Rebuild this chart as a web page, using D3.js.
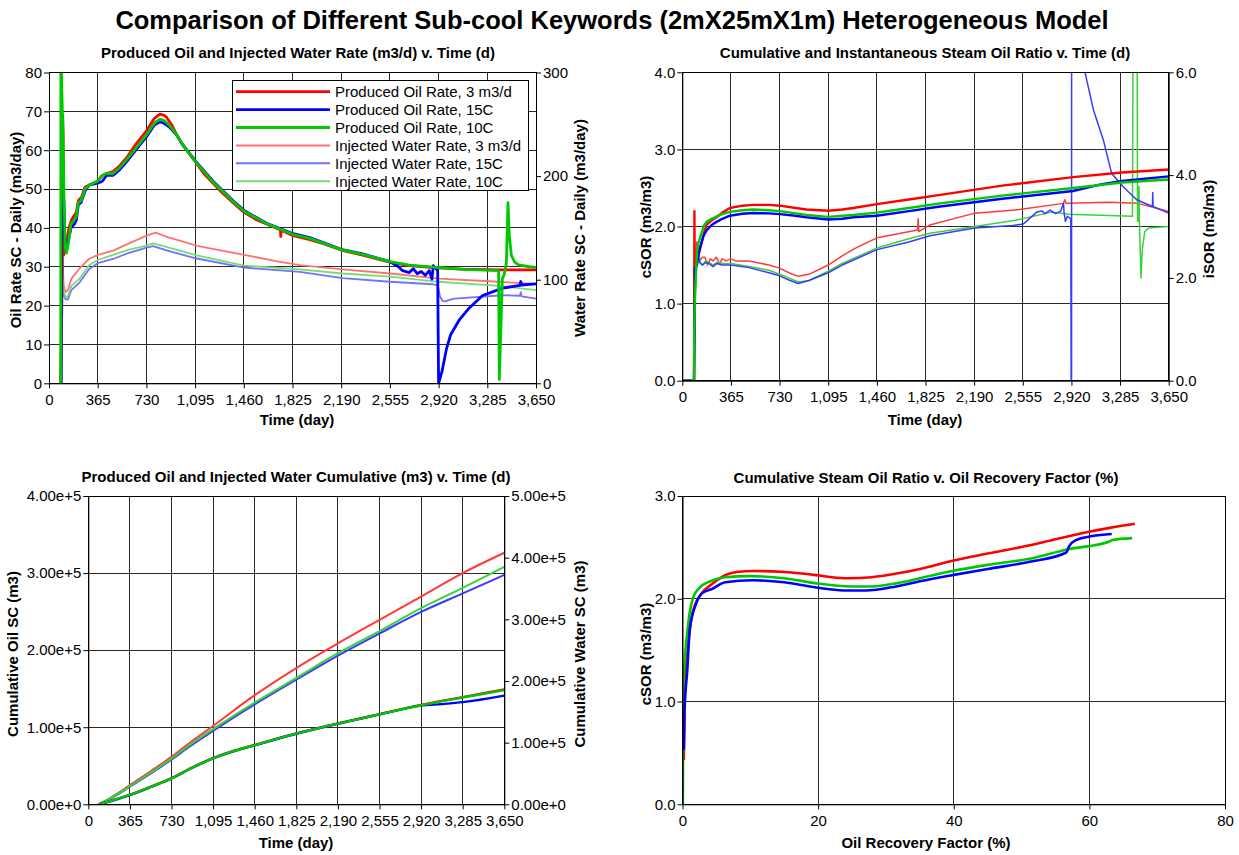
<!DOCTYPE html>
<html>
<head>
<meta charset="utf-8">
<script src="https://cdn.jsdelivr.net/npm/d3@7"></script>
<style>
  body { margin: 0; background: #fff; }
  svg { display: block; }
</style>
</head>
<body>
<svg id="fig" width="1239" height="855"></svg>
<script>
// ---------------- data ----------------
const dayTicks = [0, 365, 730, 1095, 1460, 1825, 2190, 2555, 2920, 3285, 3650];
const rfTicks = [0, 20, 40, 60, 80];

const caseLabels = ["3 m3/d", "15C", "10C"];
const caseColors = ["#ff0000", "#0000ff", "#00c800"];
const caseLight  = ["#ff7272", "#7272ff", "#74de74"];
const caseThin   = ["#ff3a3a", "#3a3aff", "#3ad23a"];

// Produced oil rate (m3/d) : [day, rate]
const oilRate3m3d = [[88,0],[100,30],[103,69],[106,62],[110,33],[118,35],[130,36],[150,40],[168,42],[185,43],[205,44],[220,47],[245,48],[270,50.5],[300,51],[363,52],[400,53.5],[431,54],[480,54.5],[530,56],[581,58],[650,61.5],[731,65],[790,68.2],[831,69.3],[860,69],[881,68.5],[920,66.5],[956,64],[1000,61.5],[1098,57],[1160,54],[1230,51.5],[1300,49],[1380,46.5],[1462,44],[1550,42.2],[1630,41],[1700,40],[1735,39.5],[1737,37.8],[1740,39.4],[1830,38],[1955,37],[2050,36],[2190,34.3],[2350,33],[2556,31.2],[2700,30.3],[2880,29.8],[3100,29.4],[3381,29.2],[3650,29.2]];
const oilRate15C = [[88,0],[92,0],[95,60],[100,63],[108,50],[118,38],[128,34],[140,36],[165,40],[190,41],[205,42],[220,46],[240,46.5],[270,49.5],[300,51],[363,51.5],[400,52],[431,53.5],[480,53.5],[530,55],[581,57],[650,60],[731,63.5],[790,66.5],[831,67.3],[860,67],[900,66],[956,64],[1000,61.5],[1098,57.2],[1230,52],[1380,47],[1462,44.5],[1630,41.2],[1830,38.5],[1955,37.5],[2190,34.5],[2350,33.3],[2556,31.3],[2620,30],[2650,29],[2700,28.5],[2730,29.5],[2760,28.2],[2790,28.8],[2820,27.8],[2850,29],[2870,26.8],[2880,30.3],[2900,29.5],[2913,29],[2920,0],[2945,3],[2980,9],[3010,12.5],[3075,16.3],[3150,19.4],[3250,22.6],[3400,24.5],[3530,25.2],[3536,26.2],[3542,25.3],[3650,25.6]];
const oilRate10C = [[86,0],[88,0],[89,82],[92,82],[100,70],[105,65],[112,48],[122,35],[130,33.5],[145,36],[165,41],[190,42],[205,43],[220,46.5],[240,47],[270,50],[300,51],[363,52],[400,53.5],[431,54],[480,54],[530,55.5],[581,57.5],[650,60.5],[731,64],[790,67],[831,68],[860,67.7],[900,66.5],[956,64],[1000,61.5],[1098,57],[1230,51.8],[1380,46.8],[1462,44.3],[1630,41.1],[1830,38.3],[1955,37.3],[2190,34.4],[2350,33.2],[2556,31.3],[2700,30.4],[2880,29.9],[3100,29.3],[3370,29],[3375,1],[3390,18],[3398,27],[3412,28],[3428,31],[3440,46.5],[3450,38],[3465,33],[3490,31.2],[3520,30.5],[3600,30],[3650,29.8]];

// Injected water rate (m3/d) : [day, rate]
const waterRate3m3d = [[88,0],[92,120],[100,125],[110,95],[125,88],[142,90],[168,101],[230,111],[300,120],[365,124],[480,128],[600,135],[731,142.5],[800,145.5],[900,140.6],[1000,137],[1100,133],[1462,124],[1700,118],[1880,114],[2200,110],[2556,106],[2920,101],[3300,98.5],[3650,96]];
const waterRate15C = [[88,0],[92,68],[100,100],[110,85],[125,81],[142,81],[168,90],[230,97.5],[300,110],[365,116],[480,120],[600,126],[731,131],[780,132.4],[900,127.5],[1100,120.7],[1462,111.7],[1880,107.6],[2200,101.5],[2556,98],[2880,95.6],[2915,94],[2930,84],[2950,79.5],[2970,79],[3000,80.5],[3040,81.8],[3400,85],[3530,84.5],[3536,88],[3542,84],[3650,81.8]];
const waterRate10C = [[88,0],[92,75],[100,110],[110,88],[125,83],[142,84],[168,94],[230,101],[300,114],[365,119],[480,124],[600,129],[731,133],[780,135],[900,131],[1100,123.7],[1462,113.6],[1880,110],[2200,106],[2556,103],[2920,98],[3400,93.7],[3650,90]];

// Cumulative steam oil ratio (m3/m3) : [day, cSOR]
const cSOR3m3d = [[0,0],[88,0],[90,1.45],[91,2.2],[93,1.45],[100,1.45],[115,1.6],[132,1.7],[160,1.9],[182,2.02],[220,2.08],[257,2.12],[300,2.18],[357,2.24],[450,2.27],[532,2.28],[650,2.28],[732,2.27],[850,2.24],[932,2.22],[1095,2.205],[1200,2.22],[1283,2.24],[1460,2.29],[1700,2.35],[1935,2.41],[2400,2.53],[2932,2.64],[3300,2.7],[3650,2.74]];
const cSOR15C = [[0,0],[88,0],[92,0.65],[95,1.45],[110,1.5],[120,1.62],[132,1.72],[160,1.88],[182,1.95],[220,2.02],[257,2.06],[300,2.1],[357,2.14],[450,2.165],[532,2.175],[650,2.17],[732,2.16],[850,2.14],[932,2.12],[1095,2.09],[1200,2.1],[1283,2.12],[1460,2.14],[1700,2.2],[1935,2.26],[2400,2.36],[2932,2.46],[3150,2.55],[3300,2.59],[3650,2.65]];
const cSOR10C = [[0,0],[88,0],[90,0.65],[95,1.1],[105,1.5],[115,1.75],[132,1.85],[160,2.0],[182,2.06],[220,2.1],[257,2.13],[300,2.16],[357,2.19],[450,2.21],[532,2.22],[650,2.21],[732,2.2],[850,2.17],[932,2.15],[1095,2.125],[1200,2.14],[1283,2.15],[1460,2.18],[1700,2.24],[1935,2.3],[2400,2.4],[2932,2.5],[3300,2.57],[3650,2.61]];

// Instantaneous steam oil ratio (m3/m3) : [day, iSOR]
const iSOR3m3d = [[0,0],[88,0],[92,1.35],[100,2.25],[107,2.7],[118,2.62],[130,2.33],[150,2.4],[170,2.4],[190,2.25],[210,2.37],[230,2.33],[255,2.4],[280,2.28],[300,2.37],[330,2.33],[365,2.37],[400,2.33],[500,2.33],[650,2.25],[730,2.19],[800,2.1],[870,2.03],[950,2.07],[1095,2.25],[1200,2.43],[1300,2.58],[1460,2.78],[1600,2.85],[1765,2.93],[1770,3.15],[1775,2.9],[1858,3.03],[2195,3.26],[2530,3.33],[2860,3.45],[2870,3.52],[2880,3.45],[3200,3.47],[3420,3.45],[3650,3.29]];
const iSOR15C = [[0,0],[88,0],[93,2.1],[100,2.2],[115,2.48],[130,2.3],[150,2.25],[175,2.3],[200,2.28],[230,2.22],[260,2.28],[300,2.25],[365,2.25],[500,2.2],[650,2.1],[730,2.04],[800,1.96],[870,1.89],[950,1.95],[1095,2.1],[1200,2.25],[1460,2.55],[1700,2.7],[1858,2.82],[2195,2.97],[2480,3.02],[2560,3.05],[2660,3.28],[2700,3.3],[2720,3.25],[2760,3.32],[2800,3.25],[2840,3.3],[2860,3.45],[2866,3.25],[2875,3.1],[2890,3.2],[2915,3.15],[2918,0],[2921,0],[2922,12],[2960,12],[3022,6],[3085,5.27],[3160,4.68],[3222,4.03],[3310,3.77],[3410,3.52],[3528,3.39],[3530,3.66],[3533,3.39],[3650,3.26]];
const iSOR10C = [[0,0],[88,0],[92,0.9],[100,1.8],[110,2.4],[120,2.58],[135,2.3],[150,2.25],[175,2.33],[200,2.3],[230,2.25],[260,2.3],[300,2.28],[365,2.28],[500,2.22],[650,2.15],[730,2.07],[800,2.0],[870,1.92],[950,1.95],[1095,2.13],[1200,2.28],[1460,2.58],[1700,2.76],[1858,2.87],[2195,3.0],[2500,3.12],[2770,3.28],[2900,3.24],[3378,3.2],[3383,7],[3413,7],[3416,3.1],[3424,3.1],[3427,3.78],[3430,3.1],[3442,2.0],[3452,2.55],[3470,2.9],[3500,2.97],[3650,3.0]];

// Cumulative oil (m3) : [day, volume]
const cumOil3m3d = [[90,0],[200,4500],[365,12500],[550,23000],[730,34000],[900,47000],[1095,60000],[1280,69500],[1460,77000],[1825,92000],[2190,105000],[2555,117000],[2920,129000],[3285,139000],[3650,149000]];
const cumOil15C  = [[90,0],[200,4300],[365,12000],[550,22500],[730,33500],[900,46500],[1095,59500],[1280,69000],[1460,76500],[1825,91500],[2190,104500],[2555,116500],[2920,128000],[3100,130000],[3285,132500],[3650,141000]];
const cumOil10C  = [[90,0],[200,4400],[365,12200],[550,22700],[730,33700],[900,46700],[1095,59700],[1280,69200],[1460,76700],[1825,91700],[2190,104700],[2555,116700],[2920,128500],[3285,138500],[3650,148000]];

// Cumulative water (m3) : [day, volume]
const cumWater3m3d = [[90,0],[200,11000],[365,31000],[550,54000],[730,77000],[900,101000],[1095,127000],[1460,177000],[1825,221000],[2190,261000],[2555,299000],[2920,337000],[3285,375000],[3650,408000]];
const cumWater15C  = [[90,0],[200,9500],[365,28500],[550,50000],[730,72500],[900,95000],[1095,119000],[1460,162000],[1825,202000],[2190,241000],[2555,277000],[2920,312000],[3285,342000],[3650,372000]];
const cumWater10C  = [[90,0],[200,10000],[365,29500],[550,51500],[730,74000],[900,97500],[1095,122000],[1460,165000],[1825,205000],[2190,245000],[2555,281000],[2920,318000],[3285,351000],[3650,385000]];

// cSOR (m3/m3) against oil recovery factor (%) : [RF, cSOR]
const rfSOR3m3d = [[0.2,0.43],[0.3,1.0],[0.8,1.53],[1.6,1.89],[2.8,2.05],[4.5,2.15],[6.3,2.23],[8,2.26],[10.4,2.27],[15,2.26],[19.7,2.23],[22,2.21],[24.4,2.2],[27.9,2.21],[32,2.25],[35,2.29],[39.8,2.37],[45,2.44],[51.2,2.52],[55,2.58],[59.8,2.65],[63,2.69],[66.7,2.73]];
const rfSOR15C  = [[0.2,0.53],[0.3,0.9],[0.7,1.3],[1.1,1.72],[2.0,1.95],[2.8,2.05],[4.5,2.1],[6.3,2.16],[10.4,2.18],[15,2.16],[19.7,2.11],[24.4,2.08],[27,2.08],[31.5,2.12],[35,2.17],[39.8,2.23],[45,2.29],[51.2,2.36],[56.6,2.45],[57,2.51],[58,2.57],[60.4,2.61],[63.3,2.63]];
const rfSOR10C  = [[0.05,0],[0.1,1.12],[0.7,1.67],[1.5,2.0],[2.4,2.1],[4.1,2.17],[6.3,2.21],[9.8,2.22],[15,2.2],[19.7,2.15],[25,2.12],[28,2.12],[31.5,2.15],[35,2.2],[39.8,2.27],[45,2.33],[51.2,2.39],[56.7,2.48],[63.1,2.56],[63.2,2.57],[66.3,2.59]];

// ---------------- drawing ----------------
const FONT = '"Liberation Sans", Arial, Helvetica, sans-serif';
const svg = d3.select("#fig");

function styleAxis(sel) {
  sel.attr("font-size", 15).attr("font-family", FONT);
  sel.selectAll("text").attr("fill", "#000");
  sel.selectAll("line").attr("stroke", "#000");
  sel.select(".domain").attr("stroke", "#000");
}

function vLabel(x, y, txt) {
  svg.append("text")
    .attr("transform", `translate(${x},${y}) rotate(-90)`)
    .attr("text-anchor", "middle")
    .attr("font-family", FONT).attr("font-size", 15).attr("font-weight", "bold")
    .text(txt);
}

function hLabel(x, y, txt, size) {
  svg.append("text")
    .attr("x", x).attr("y", y)
    .attr("text-anchor", "middle")
    .attr("font-family", FONT).attr("font-size", size || 15).attr("font-weight", "bold")
    .text(txt);
}

function panel(o) {
  const g = svg.append("g");
  const x = d3.scaleLinear().domain(o.xDomain).range([o.left, o.right]);
  const y = d3.scaleLinear().domain(o.yDomain).range([o.bottom, o.top]);
  const y2 = o.y2Domain ? d3.scaleLinear().domain(o.y2Domain).range([o.bottom, o.top]) : null;

  svg.append("clipPath").attr("id", "clip-" + o.id)
    .append("rect").attr("x", o.left).attr("y", o.top)
    .attr("width", o.right - o.left).attr("height", o.bottom - o.top);

  // grid
  const grid = g.append("g").attr("stroke", "#2a2a2a").attr("stroke-width", 1)
    .attr("shape-rendering", "crispEdges");
  grid.selectAll(null).data(o.xGrid).enter().append("line")
    .attr("x1", d => x(d)).attr("x2", d => x(d)).attr("y1", o.top).attr("y2", o.bottom);
  grid.selectAll(null).data(o.yGrid).enter().append("line")
    .attr("x1", o.left).attr("x2", o.right).attr("y1", d => y(d)).attr("y2", d => y(d));

  // series
  const plot = g.append("g").attr("clip-path", `url(#clip-${o.id})`);
  o.series.forEach(s => {
    const ys = s.axis === 2 ? y2 : y;
    const line = d3.line().x(d => x(d[0])).y(d => ys(d[1])).curve(s.curve || d3.curveLinear);
    plot.append("path").datum(s.data)
      .attr("d", line).attr("fill", "none")
      .attr("stroke", s.color).attr("stroke-width", s.width)
      .attr("stroke-linejoin", "round").attr("stroke-linecap", "butt");
  });

  // frame
  g.append("rect").attr("x", o.left).attr("y", o.top)
    .attr("width", o.right - o.left).attr("height", o.bottom - o.top)
    .attr("fill", "none").attr("stroke", "#000").attr("stroke-width", 1)
    .attr("shape-rendering", "crispEdges");

  // axes
  const ax = g.append("g").attr("transform", `translate(0,${o.bottom})`)
    .call(d3.axisBottom(x).tickValues(o.xTicks).tickFormat(o.xFormat)
      .tickSize(5).tickPadding(6).tickSizeOuter(0));
  styleAxis(ax);
  const ay = g.append("g").attr("transform", `translate(${o.left},0)`)
    .call(d3.axisLeft(y).tickValues(o.yTicks).tickFormat(o.yFormat)
      .tickSize(5).tickPadding(2).tickSizeOuter(0));
  styleAxis(ay);
  if (y2) {
    const ay2 = g.append("g").attr("transform", `translate(${o.right},0)`)
      .call(d3.axisRight(y2).tickValues(o.y2Ticks).tickFormat(o.y2Format)
        .tickSize(5).tickPadding(2).tickSizeOuter(0));
    styleAxis(ay2);
  }
  return { x, y, y2, g };
}

const fmtDay = d3.format(",");
const fmt1 = d3.format(".1f");
const fmtE = d3.format(".2e");

// main title
hLabel(612, 29, "Comparison of Different Sub-cool Keywords (2mX25mX1m) Heterogeneous Model", 25.5);

// ---- panel 1: rates ----
panel({
  id: "rate", left: 49, right: 536, top: 72.5, bottom: 383.3,
  xDomain: [0, 3650], yDomain: [0, 80], y2Domain: [0, 300],
  xTicks: dayTicks, xGrid: dayTicks, xFormat: fmtDay,
  yTicks: d3.range(0, 81, 10), yGrid: d3.range(10, 80, 10), yFormat: d3.format("d"),
  y2Ticks: [0, 100, 200, 300], y2Format: d3.format("d"),
  series: [
    { data: waterRate3m3d, axis: 2, color: caseLight[0], width: 1.8 },
    { data: waterRate15C, axis: 2, color: caseLight[1], width: 1.8 },
    { data: waterRate10C, axis: 2, color: caseLight[2], width: 1.8 },
    { data: oilRate3m3d, color: caseColors[0], width: 2.8 },
    { data: oilRate15C, color: caseColors[1], width: 2.8 },
    { data: oilRate10C, color: caseColors[2], width: 2.8 }
  ]
});
hLabel(298, 58, "Produced Oil and Injected Water Rate (m3/d) v. Time (d)");
hLabel(297, 425, "Time (day)");
vLabel(21, 230, "Oil Rate SC - Daily (m3/day)");
vLabel(585, 228, "Water Rate SC - Daily (m3/day)");

// legend
const legendItems = [
  { label: "Produced Oil Rate, " + caseLabels[0], color: caseColors[0], w: 2.8 },
  { label: "Produced Oil Rate, " + caseLabels[1], color: caseColors[1], w: 2.8 },
  { label: "Produced Oil Rate, " + caseLabels[2], color: caseColors[2], w: 2.8 },
  { label: "Injected Water Rate, " + caseLabels[0], color: caseLight[0], w: 2 },
  { label: "Injected Water Rate, " + caseLabels[1], color: caseLight[1], w: 2 },
  { label: "Injected Water Rate, " + caseLabels[2], color: caseLight[2], w: 2 }
];
const lg = svg.append("g");
lg.append("rect").attr("x", 232.5).attr("y", 80.5).attr("width", 296).attr("height", 110)
  .attr("fill", "#fff").attr("stroke", "#000").attr("stroke-width", 1);
legendItems.forEach((d, i) => {
  const cy = 91.7 + i * 17.9;
  lg.append("line").attr("x1", 236).attr("x2", 330).attr("y1", cy).attr("y2", cy)
    .attr("stroke", d.color).attr("stroke-width", d.w);
  lg.append("text").attr("x", 335).attr("y", cy + 5.3)
    .attr("font-family", FONT).attr("font-size", 15).text(d.label);
});

// ---- panel 2: steam oil ratios ----
panel({
  id: "sor", left: 682.3, right: 1168.7, top: 72.3, bottom: 380.7,
  xDomain: [0, 3650], yDomain: [0, 4], y2Domain: [0, 6],
  xTicks: dayTicks, xGrid: dayTicks, xFormat: fmtDay,
  yTicks: [0, 1, 2, 3, 4], yGrid: [1, 2, 3], yFormat: fmt1,
  y2Ticks: [0, 2, 4, 6], y2Format: fmt1,
  series: [
    { data: iSOR3m3d, axis: 2, color: caseThin[0], width: 1.5 },
    { data: iSOR10C, axis: 2, color: caseThin[2], width: 1.5 },
    { data: iSOR15C, axis: 2, color: caseThin[1], width: 1.5 },
    { data: cSOR3m3d, color: caseColors[0], width: 2.4 },
    { data: cSOR15C, color: caseColors[1], width: 2.4 },
    { data: cSOR10C, color: caseColors[2], width: 2.4 }
  ]
});
hLabel(925, 58, "Cumulative and Instantaneous Steam Oil Ratio v. Time (d)");
hLabel(925, 425, "Time (day)");
vLabel(651, 227, "cSOR (m3/m3)");
vLabel(1214, 229, "iSOR (m3/m3)");

// ---- panel 3: cumulative volumes ----
panel({
  id: "cum", left: 88.3, right: 504.3, top: 496, bottom: 804.3,
  xDomain: [0, 3650], yDomain: [0, 400000], y2Domain: [0, 500000],
  xTicks: dayTicks, xGrid: dayTicks, xFormat: fmtDay,
  yTicks: d3.range(0, 400001, 100000), yGrid: [100000, 200000, 300000], yFormat: fmtE,
  y2Ticks: d3.range(0, 500001, 100000), y2Format: fmtE,
  series: [
    { data: cumWater3m3d, axis: 2, color: caseThin[0], width: 2, curve: d3.curveMonotoneX },
    { data: cumWater15C, axis: 2, color: caseThin[1], width: 2, curve: d3.curveMonotoneX },
    { data: cumWater10C, axis: 2, color: caseThin[2], width: 2, curve: d3.curveMonotoneX },
    { data: cumOil3m3d, color: caseColors[0], width: 2.4, curve: d3.curveMonotoneX },
    { data: cumOil15C, color: caseColors[1], width: 2.4, curve: d3.curveMonotoneX },
    { data: cumOil10C, color: caseColors[2], width: 2.4, curve: d3.curveMonotoneX }
  ]
});
hLabel(296, 482, "Produced Oil and Injected Water Cumulative (m3) v. Time (d)");
hLabel(296, 848, "Time (day)");
vLabel(18, 654, "Cumulative Oil SC (m3)");
vLabel(585, 654, "Cumulative Water SC (m3)");

// ---- panel 4: cSOR v. recovery factor ----
panel({
  id: "rf", left: 682.5, right: 1225, top: 496, bottom: 804.3,
  xDomain: [0, 80], yDomain: [0, 3],
  xTicks: rfTicks, xGrid: [20, 40, 60], xFormat: d3.format("d"),
  yTicks: [0, 1, 2, 3], yGrid: [1, 2], yFormat: fmt1,
  series: [
    { data: rfSOR3m3d, color: caseColors[0], width: 2.6, curve: d3.curveMonotoneX },
    { data: rfSOR10C, color: caseColors[2], width: 2.6, curve: d3.curveMonotoneX },
    { data: rfSOR15C, color: caseColors[1], width: 2.6, curve: d3.curveMonotoneX }
  ]
});
hLabel(926, 483, "Cumulative Steam Oil Ratio v. Oil Recovery Factor (%)");
hLabel(926, 848, "Oil Recovery Factor (%)");
vLabel(651, 654, "cSOR (m3/m3)");
</script>
</body>
</html>
